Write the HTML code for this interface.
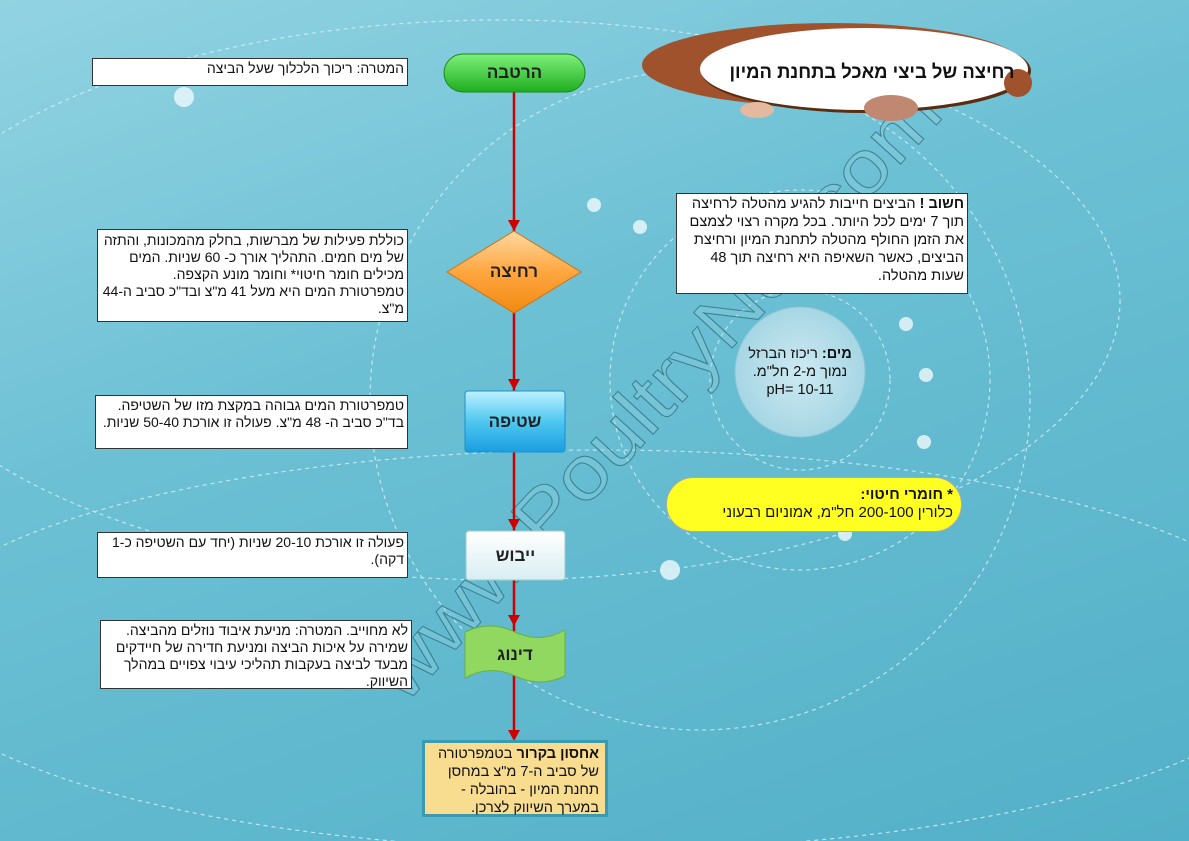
<!DOCTYPE html>
<html><head><meta charset="utf-8"><style>
body{margin:0;width:1189px;height:841px;overflow:hidden;position:relative;font-family:"Liberation Sans",sans-serif;background:linear-gradient(160deg,#92d3e2 0%,#6cc0d4 40%,#52b0c8 100%);}
.box{position:absolute;background:#fff;border:1px solid #333;direction:rtl;text-align:right;font-size:14px;line-height:17px;padding:1px 3px;box-sizing:border-box;color:#111;}
.lbl{position:absolute;display:flex;align-items:center;justify-content:center;font-weight:bold;font-size:17px;color:#222;}
</style></head><body>
<svg width="1189" height="841" style="position:absolute;left:0;top:0">
<defs>
<linearGradient id="g1" x1="0" y1="0" x2="0" y2="1"><stop offset="0" stop-color="#7ef07a"/><stop offset="1" stop-color="#1fae1f"/></linearGradient>
<linearGradient id="g2" x1="0" y1="0" x2="0" y2="1"><stop offset="0" stop-color="#ffd9a0"/><stop offset="0.5" stop-color="#ffa640"/><stop offset="1" stop-color="#f08a10"/></linearGradient>
<linearGradient id="g3" x1="0" y1="0" x2="0" y2="1"><stop offset="0" stop-color="#bdf0ff"/><stop offset="0.5" stop-color="#4fc8f0"/><stop offset="1" stop-color="#1a9ee0"/></linearGradient>
<linearGradient id="g4" x1="0" y1="0" x2="0" y2="1"><stop offset="0" stop-color="#ffffff"/><stop offset="1" stop-color="#d8eef2"/></linearGradient>
<radialGradient id="g5"><stop offset="0" stop-color="#cdeaf2"/><stop offset="1" stop-color="#a6d6e4"/></radialGradient>
</defs>
<g fill="none" stroke="#d8f0f6" stroke-width="1.2" stroke-dasharray="4,4" opacity="0.8">
<circle cx="800" cy="380" r="90"/><circle cx="800" cy="380" r="190"/><circle cx="700" cy="400" r="330"/>
<ellipse cx="500" cy="300" rx="620" ry="280"/><ellipse cx="600" cy="650" rx="700" ry="200"/>
</g>
<g fill="#e8f6fa" opacity="0.85">
<circle cx="184" cy="97" r="10"/><circle cx="594" cy="205" r="7"/><circle cx="640" cy="227" r="7"/><circle cx="670" cy="570" r="10"/><circle cx="906" cy="324" r="7"/><circle cx="926" cy="375" r="7"/><circle cx="924" cy="442" r="7"/><circle cx="845" cy="534" r="7"/>
</g>
<text x="405" y="705" transform="rotate(-47.5 405 705)" font-size="76" textLength="800" lengthAdjust="spacingAndGlyphs" font-family="Liberation Sans" fill="#8fcfdf" fill-opacity="0.5" stroke="#2f6f80" stroke-width="1" opacity="0.75">www.PoultryNet.com</text>
<ellipse cx="832" cy="65" rx="190" ry="42" fill="#a0522d"/>
<ellipse cx="866" cy="71" rx="165" ry="42" fill="#5a2c10"/>
<ellipse cx="864" cy="69" rx="164" ry="41" fill="#fff"/>
<circle cx="1018" cy="83" r="14" fill="#a0522d"/>
<ellipse cx="757" cy="110" rx="17" ry="8" fill="#e3b9a0"/>
<ellipse cx="891" cy="108" rx="27" ry="13" fill="#c08870"/>
<text x="872" y="78" text-anchor="middle" direction="rtl" font-size="19" font-weight="bold" textLength="285" lengthAdjust="spacingAndGlyphs" font-family="Liberation Sans" fill="#111">רחיצה של ביצי מאכל בתחנת המיון</text>
<line x1="514" y1="92" x2="514" y2="738" stroke="#c00" stroke-width="2.5"/>
<g fill="#c00">
<polygon points="508,220 520,220 514,231"/><polygon points="508,379 520,379 514,390"/><polygon points="508,519 520,519 514,530"/><polygon points="508,615 520,615 514,626"/><polygon points="508,730 520,730 514,741"/>
</g>
<rect x="444" y="54" width="141" height="38" rx="19" fill="url(#g1)" stroke="#1a8a1a"/>
<polygon points="514,231 581,272 514,313 447,272" fill="url(#g2)" stroke="#d07010"/>
<rect x="465" y="391" width="100" height="61" rx="3" fill="url(#g3)" stroke="#1a90d0"/>
<rect x="466" y="531" width="99" height="49" rx="3" fill="url(#g4)" stroke="#9cc"/>
<path d="M465,632 Q490,620 515,632 T565,630 L565,676 Q540,688 515,676 T465,678 Z" fill="#90d860" stroke="#6ab040"/>
<circle cx="800" cy="372" r="65" fill="url(#g5)" stroke="#8cc6d6"/>
</svg>
<div class="lbl" style="left:444px;top:54px;width:141px;height:38px">הרטבה</div>
<div class="lbl" style="left:447px;top:231px;width:134px;height:82px">רחיצה</div>
<div class="lbl" style="left:465px;top:391px;width:100px;height:61px">שטיפה</div>
<div class="lbl" style="left:466px;top:531px;width:99px;height:49px">ייבוש</div>
<div class="lbl" style="left:465px;top:627px;width:100px;height:55px">דינוג</div>
<div class="box" style="left:92px;top:58px;width:316px;height:28px">המטרה: ריכוך הלכלוך שעל הביצה</div>
<div class="box" style="left:97px;top:229px;width:311px;height:93px;padding-top:2px">כוללת פעילות של מברשות, בחלק מהמכונות, והתזה של מים חמים. התהליך אורך כ- 60 שניות. המים מכילים חומר חיטוי* וחומר מונע הקצפה.<br>טמפרטורת המים היא מעל 41 מ"צ ובד"כ סביב ה-44 מ"צ.</div>
<div class="box" style="left:95px;top:395px;width:313px;height:54px">טמפרטורת המים גבוהה במקצת מזו של השטיפה. בד"כ סביב ה- 48 מ"צ. פעולה זו אורכת 50-40 שניות.</div>
<div class="box" style="left:97px;top:532px;width:311px;height:46px">פעולה זו אורכת 20-10 שניות (יחד עם השטיפה כ-1 דקה).</div>
<div class="box" style="left:100px;top:620px;width:312px;height:69px">לא מחוייב. המטרה: מניעת איבוד נוזלים מהביצה. שמירה על איכות הביצה ומניעת חדירה של חיידקים מבעד לביצה בעקבות תהליכי עיבוי צפויים במהלך השיווק.</div>
<div class="box" style="left:676px;top:193px;width:292px;height:101px;font-size:14.5px;line-height:18px"><b>חשוב !</b> הביצים חייבות להגיע מהטלה לרחיצה תוך 7 ימים לכל היותר. בכל מקרה רצוי לצמצם את הזמן החולף מהטלה לתחנת המיון ורחיצת הביצים, כאשר השאיפה היא רחיצה תוך 48 שעות מהטלה.</div>
<div style="position:absolute;left:735px;top:345px;width:130px;text-align:center;direction:rtl;font-size:14.5px;line-height:18px;color:#111"><b>מים:</b> ריכוז הברזל נמוך מ-2 חל"מ.<br><span dir="ltr">pH= 10-11</span></div>
<div style="position:absolute;left:666px;top:477px;width:296px;height:55px;background:#ffff22;border:1px solid #aaa;border-radius:28px;box-sizing:border-box;direction:rtl;text-align:right;padding:8px 8px 0 10px;font-size:15px;line-height:18px;color:#111"><b>* חומרי חיטוי:</b><br>כלורין 200-100 חל"מ, אמוניום רבעוני</div>
<div style="position:absolute;left:422px;top:740px;width:186px;height:77px;background:#f8dc90;border:3px solid #3a9ab0;box-sizing:border-box;direction:rtl;text-align:right;padding:2px 6px;font-size:14.5px;line-height:18px;color:#111"><b>אחסון בקרור</b> בטמפרטורה של סביב ה-7 מ"צ במחסן תחנת המיון - בהובלה - במערך השיווק לצרכן.</div>
</body></html>
